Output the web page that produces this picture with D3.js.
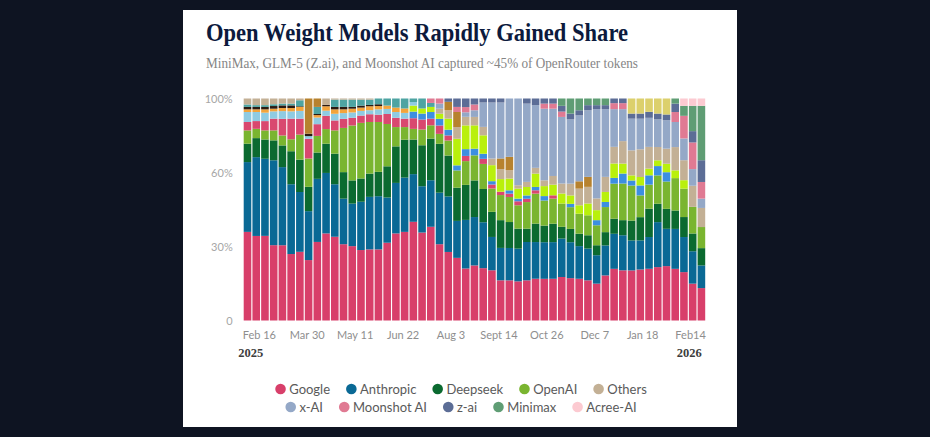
<!DOCTYPE html>
<html><head><meta charset="utf-8">
<script src="https://cdn.jsdelivr.net/npm/d3@7/dist/d3.min.js"></script>
<style>
html,body{margin:0;padding:0;background:#0e1422;}
svg{display:block}
</style></head><body>
<svg id="chart" width="930" height="437"></svg>
<script>
// ---------- DATA ----------
// 53 weekly bars, Feb 2025 – Feb 2026 (share of OpenRouter tokens, %)
const weeks = d3.timeWeek.range(new Date(2025, 1, 2), new Date(2026, 1, 8));

const google     = [40.0,38.2,38.2,34.0,34.0,30.0,31.0,27.3,35.5,39.3,37.8,34.5,33.6,31.8,32.1,32.1,35.1,39.3,40.0,44.5,39.7,42.3,34.5,31.0,28.3,23.0,24.8,23.6,22.6,18.1,18.1,17.6,18.1,18.8,18.8,18.8,19.6,19.1,18.8,18.1,16.6,20.3,23.3,22.6,22.6,23.0,23.3,24.1,24.5,23.3,21.8,16.6,14.6];
const anthropic  = [31.5,35.6,34.8,38.3,35.3,31.5,27.0,22.1,28.5,27.3,23.7,20.6,19.2,21.8,23.7,24.0,20.4,22.8,24.5,21.5,20.9,21.0,23.3,25.1,16.7,21.5,21.8,20.7,15.0,14.6,14.6,14.7,17.3,16.5,16.5,16.5,17.3,16.2,14.7,14.3,12.8,13.5,15.8,15.8,13.5,13.1,14.3,20.3,16.8,18.0,15.8,14.6,10.2];
const deepseek   = [8.3,8.6,8.7,9.0,9.8,14.9,14.6,11.0,11.9,13.2,13.8,12.0,10.5,10.5,10.5,11.0,14.1,16.5,17.1,15.6,18.5,18.8,22.1,18.5,15.0,15.5,16.5,15.0,11.3,12.5,11.7,9.0,6.0,8.3,7.5,8.3,5.3,6.0,5.6,6.0,4.5,6.0,6.8,6.8,9.0,10.5,12.8,8.3,9.0,8.3,9.0,8.0,7.8];
const openai     = [6.0,4.2,4.1,4.5,4.5,5.4,11.3,12.8,7.5,6.6,10.5,20.0,24.8,25.1,23.3,22.5,19.1,8.7,5.7,4.8,7.1,6.0,4.5,6.8,7.8,10.5,11.3,11.3,10.5,11.3,11.3,10.5,12.0,13.5,11.3,11.3,10.5,9.8,9.0,9.0,9.0,11.3,15.8,16.5,15.8,9.8,10.8,12.8,12.3,14.6,12.8,12.0,9.5];
const unlabeledCrimson = [3.8,3.5,4.2,5.3,7.5,9.3,7.2,8.9,5.3,6.0,4.5,4.1,3.5,3.3,3.5,3.3,4.5,4.2,3.8,4.8,4.5,3.0,3.8,2.3,0,2.3,0,2.3,1.8,1.5,1.5,1.8,1.5,1.5,0,1.5,0,0,0,0,0,0,0,0,0,0,0,0,0,0,0,0,0];
const unlabeledBlue    = [0,0,0,0,0,0,0,0,0,0,0,0,0,0,0,0,0,0,0,3.0,2.7,3.0,3.0,2.6,2.3,3.0,3.0,2.3,1.5,0,1.5,1.2,1.5,1.5,2.0,0,0,1.5,0,0,2.3,2.3,2.6,4.5,2.3,4.5,4.2,4.2,4.2,0,0,0,0];
const unlabeledLime    = [0,0,0,0,0,0,0,0,0,0,0,0,0,0,0,0,0,0,0,2.7,2.3,2.3,2.3,5.0,12.0,10.5,10.5,8.3,7.2,5.7,5.3,4.5,3.8,6.0,4.5,4.8,4.5,3.8,3.8,5.3,4.5,4.5,6.5,4.5,2.3,3.8,3.0,2.6,3.8,3.5,3.8,0,0];
const unlabeledSky     = [4.5,4.1,3.8,3.3,3.5,3.3,3.5,1.2,3.0,2.3,3.0,2.6,2.4,2.1,1.8,2.4,2.3,2.6,2.6,1.6,0,0,0,0,0,0,0,0,0,0,0,0,0,0,0,0,0,0,0,0,0,0,0,0,0,0,0,0,0,0,0,0,0];
const unlabeledOrange  = [1.2,1.2,1.5,1.2,1.4,1.5,1.8,0,1.1,2.0,2.0,1.7,1.7,1.5,1.8,1.5,1.5,2.0,2.0,0,0,0,0,0,0,0,0,0,0,0,0,0,0,0,0,0,0,0,0,0,0,0,0,0,0,0,0,0,0,0,0,0,0];
const unlabeledDark    = [1.1,1.1,1.1,1.2,1.2,1.2,0.3,1.1,0.5,0.6,1.1,1.1,0.8,0.9,0.6,0.8,0,0,0,0,0,0,0,0,0,0,0,0,0,0,0,0,0,0,0,0,0,0,0,0,0,0,0,0,0,0,0,0,0,0,0,0,0];
const unlabeledTeal    = [1.1,0.8,0.8,0.8,0.8,0.8,2.7,0,3.2,0,3.3,3.3,3.3,2.7,2.4,2.6,3.2,4.1,4.5,1.6,4.5,1.8,0,0,0,0,0,0,0,0,0,0,0,0,0,0,0,0,0,0,0,0,0,0,0,0,0,0,0,0,0,0,0];
const others     = [2.7,3.0,3.0,2.6,2.3,2.3,0.8,0,0,2.9,0.5,0.5,0.5,0.5,0.5,0,0,0,0,0,0,0,2.3,3.8,5.3,3.8,3.8,3.8,3.0,4.5,3.8,1.5,2.3,2.6,2.6,3.9,4.5,5.3,7.5,7.5,5.3,6.8,7.5,10.1,11.3,12.5,9.8,6.0,6.8,10.5,9.0,9.5,8.6];
const unlabeledBrown   = [0,0,0,0,0,0,0,15.9,3.8,0,0,0,0,0,0,0,0,0,0,0,0,0,0,3.8,6.8,0,0,0,0,4.8,6.0,0,0,0,0,0,0,0,3.3,4.5,0,0,0,0,0,0,0,0,0,0,0,0,0];
const xai        = [0,0,0,0,0,0,0,0,0,0,0,0,0,0,0,0,0,0,0,0,0,0,2.3,0,0,2.0,3.0,11.0,25.2,25.2,26.3,39.0,35.3,28.2,32.3,30.3,30.0,29.0,29.7,30.0,40.2,30.5,17.0,14.4,14.3,13.8,13.1,12.5,12.8,11.3,9.8,7.5,4.2];
const moonshot   = [0,0,0,0,0,0,0,0,0,0,0,0,0,0,0,0,0,0,0,0,0,2.0,2.3,0,2.3,2.3,2.6,0,0,0,0,0,0,0,2.3,2.3,2.4,0,0,0,0,0,2.7,2.7,0,0,0,0,0,4.5,10.2,12.0,7.5];
const zai        = [0,0,0,0,0,0,0,0,0,0,0,0,0,0,0,0,0,0,0,0,0,0,0,1.5,3.8,3.8,2.7,1.8,1.8,1.8,0,0,2.3,3.0,2.3,2.3,2.6,2.6,2.3,2.3,1.8,1.8,2.1,2.1,2.3,2.3,2.7,2.6,2.6,3.8,0,5.1,9.8];
const minimax    = [0,0,0,0,0,0,0,0,0,0,0,0,0,0,0,0,0,0,0,0,0,0,0,0,0,0,0,0,0,0,0,0,0,0,0,0,3.3,6.8,5.3,3.0,3.0,3.0,0,0,0,0,0,0,0,2.3,4.5,11.4,24.5];
const unlabeledYellow  = [0,0,0,0,0,0,0,0,0,0,0,0,0,0,0,0,0,0,0,0,0,0,0,0,0,0,0,0,0,0,0,0,0,0,0,0,0,0,0,0,0,0,0,0,6.8,6.8,6.0,6.8,7.2,0,0,0,0];
const acree      = [0,0,0,0,0,0,0,0,0,0,0,0,0,0,0,0,0,0,0,0,0,0,0,0,0,0,0,0,0,0,0,0,0,0,0,0,0,0,0,0,0,0,0,0,0,0,0,0,0,0,3.3,3.3,3.3];

const xTickLabels = ["Feb 16","Mar 30","May 11","Jun 22","Aug 3","Sept 14","Oct 26","Dec 7","Jan 18","Feb14"];
const yearLabels  = ["2025","2026"];
const yTickLabels = ["0","30%","60%","100%"];
const legendRow1  = ["Google","Anthropic","Deepseek","OpenAI","Others"];
const legendRow2  = ["x-AI","Moonshot AI","z-ai","Minimax","Acree-AI"];

// ---------- SERIES (bottom → top) ----------
const series = [
  {key:"Google",      values:google,            color:"#d83f6a"},
  {key:"Anthropic",   values:anthropic,         color:"#0a6995"},
  {key:"Deepseek",    values:deepseek,          color:"#0b6a30"},
  {key:"OpenAI",      values:openai,            color:"#7ab530"},
  {key:"_crimson",    values:unlabeledCrimson,  color:"#d9486f"},
  {key:"_blue",       values:unlabeledBlue,     color:"#3c8fe0"},
  {key:"_lime",       values:unlabeledLime,     color:"#b9f00c"},
  {key:"_sky",        values:unlabeledSky,      color:"#8fcbe2"},
  {key:"_orange",     values:unlabeledOrange,   color:"#f3a43b"},
  {key:"_dark",       values:unlabeledDark,     color:"#2b1a12"},
  {key:"_teal",       values:unlabeledTeal,     color:"#4ea4a2"},
  {key:"Others",      values:others,            color:"#c3b095"},
  {key:"_brown",      values:unlabeledBrown,    color:"#b7822e"},
  {key:"x-AI",        values:xai,               color:"#94a8c7"},
  {key:"Moonshot AI", values:moonshot,          color:"#e07a93"},
  {key:"z-ai",        values:zai,               color:"#5c6d96"},
  {key:"Minimax",     values:minimax,           color:"#5f9d74"},
  {key:"_yellow",     values:unlabeledYellow,   color:"#dcd06c"},
  {key:"Acree-AI",    values:acree,             color:"#fccad1"}
];
const colorOf = Object.fromEntries(series.map(s => [s.key, s.color]));

const table = weeks.map((w, i) => {
  const row = {week: w};
  series.forEach(s => row[s.key] = s.values[i]);
  return row;
});

// ---------- LAYOUT ----------
const svg = d3.select("#chart");
svg.append("rect").attr("x",183).attr("y",10).attr("width",554).attr("height",417).attr("fill","#ffffff");

const plot = {left:243.7, right:705.2, top:98.5, bottom:320.5};

const x = d3.scaleBand().domain(weeks).range([plot.left, plot.right]).paddingInner(0.13).paddingOuter(0);
const y = d3.scaleLinear().domain([0,1]).range([plot.bottom, plot.top]);

const stack = d3.stack().keys(series.map(s => s.key)).offset(d3.stackOffsetExpand);
const layers = stack(table);

svg.append("g").selectAll("g").data(layers).join("g")
  .attr("fill", d => colorOf[d.key])
  .selectAll("rect").data(d => d).join("rect")
  .attr("x", d => x(d.data.week))
  .attr("width", x.bandwidth())
  .attr("y", d => y(d[1]))
  .attr("height", d => Math.max(0, y(d[0]) - y(d[1])));

// y axis
const yAxis = d3.axisLeft(y).tickValues([0,1/3,2/3,1]).tickSize(0).tickPadding(11)
  .tickFormat((d,i) => yTickLabels[i]);
const gy = svg.append("g").attr("transform",`translate(${plot.left},0)`).call(yAxis);
gy.select(".domain").remove();
gy.selectAll("text").attr("fill","#a6a6a6").style("font-family","Lato, 'Open Sans', sans-serif").style("font-size","11px");

// x axis (labels evenly spaced)
const xt = d3.scalePoint().domain(xTickLabels).range([plot.left, plot.right]).padding(0.315);
const xAxis = d3.axisBottom(xt).tickSize(0).tickPadding(10.5);
const gx = svg.append("g").attr("transform",`translate(0,${plot.bottom})`).call(xAxis);
gx.select(".domain").remove();
gx.selectAll("text").attr("fill","#8e8e8e").style("font-family","Lato, 'Open Sans', sans-serif").style("font-size","11px");

// years
svg.append("text").text(yearLabels[0]).attr("x",238.3).attr("y",356.5)
  .attr("fill","#3d3d3d").style("font-family","'Liberation Serif', serif").style("font-weight","700").style("font-size","12.5px");
svg.append("text").text(yearLabels[1]).attr("x",701.7).attr("y",356.5).attr("text-anchor","end")
  .attr("fill","#3d3d3d").style("font-family","'Liberation Serif', serif").style("font-weight","700").style("font-size","12.5px");

// title & subtitle
svg.append("text").text("Open Weight Models Rapidly Gained Share")
  .attr("x",206).attr("y",41).attr("fill","#0c1a3d")
  .attr("textLength",422).attr("lengthAdjust","spacingAndGlyphs")
  .style("font-family","'Liberation Serif', 'DejaVu Serif', serif").style("font-weight","700").style("font-size","26px");
svg.append("text").text("MiniMax, GLM-5 (Z.ai), and Moonshot AI captured ~45% of OpenRouter tokens")
  .attr("x",206).attr("y",67.5).attr("fill","#858585")
  .attr("textLength",432).attr("lengthAdjust","spacingAndGlyphs")
  .style("font-family","'Liberation Serif', 'DejaVu Serif', serif").style("font-size","14.5px");

// legend
function legendRow(names, cy) {
  const g = svg.append("g");
  let cx = 0;
  names.forEach(n => {
    const it = g.append("g");
    it.append("circle").attr("r",5.3).attr("cx",5.3).attr("cy",0).attr("fill",colorOf[n]);
    const t = it.append("text").text(n).attr("x",14).attr("y",4.5).attr("fill","#5a5a5a")
      .style("font-family","Lato, 'Open Sans', sans-serif").style("font-size","13px");
    const w = 14 + t.node().getComputedTextLength();
    it.attr("transform",`translate(${cx},0)`);
    cx += w + 16;
  });
  const total = cx - 16;
  g.attr("transform",`translate(${461 - total/2},${cy})`);
}
legendRow(legendRow1, 389);
legendRow(legendRow2, 407);
</script>
</body></html>
